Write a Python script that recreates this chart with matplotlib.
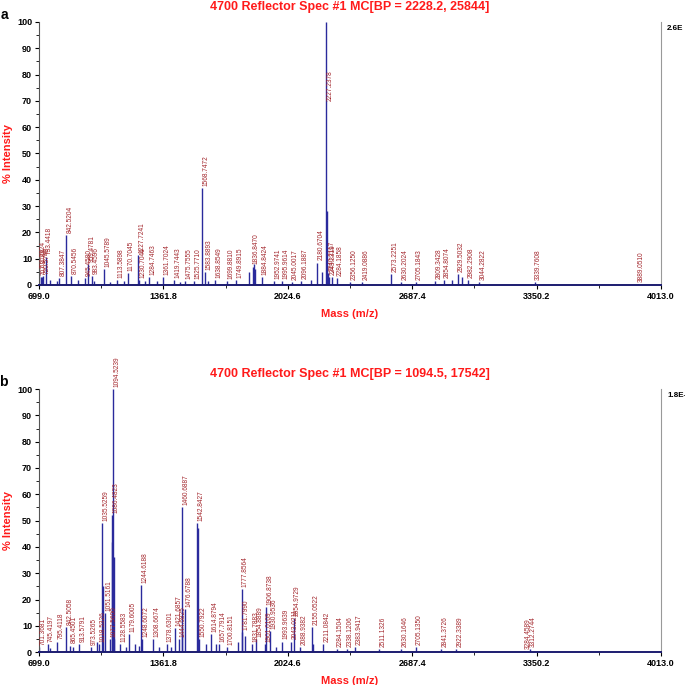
import matplotlib
matplotlib.use("Agg")
from matplotlib import pyplot as plt
from matplotlib.ticker import MultipleLocator, FixedLocator

plt.rcParams['font.family'] = ['Liberation Sans', 'DejaVu Sans']

# panel a: labelled peaks (m/z, % intensity)
a_mass = [701.2924, 707.3788, 720.5742, 733.4418, 807.3847, 842.5204, 870.5456, 945.4580,
          959.4781, 983.4596, 1045.5789, 1113.5898, 1170.7045, 1227.7241, 1230.7046, 1284.7463,
          1361.7024, 1419.7443, 1475.7555, 1525.7710, 1568.7472, 1583.8893, 1638.8549, 1699.8810,
          1749.8915, 1836.8470, 1884.8424, 1952.9741, 1995.9614, 2045.0017, 2096.1887, 2180.6704,
          2227.2378, 2240.2117, 2243.2319, 2284.1858, 2356.1250, 2419.0886, 2573.2251, 2630.2024,
          2705.1843, 2809.3428, 2854.8074, 2929.5032, 2982.2908, 3044.2822, 3339.7608, 3889.0510]
a_int = [5.5, 3.0, 3.5, 10.8, 2.5, 19.0, 3.5, 2.5,
         8.0, 3.5, 6.0, 2.0, 4.5, 11.5, 2.0, 3.0,
         3.0, 2.0, 1.5, 1.5, 37.0, 5.0, 2.0, 1.5,
         2.0, 7.0, 3.0, 1.5, 1.5, 1.2, 1.5, 8.5,
         100.0, 4.5, 3.0, 2.5, 1.0, 1.0, 4.0, 1.0,
         1.0, 1.5, 2.0, 4.0, 2.0, 1.0, 1.0, 0.5]
# panel a: unlabelled peaks
a_minor_mass = [714.0, 760.0, 795.0, 905.0, 990.0, 1075.0, 1150.0, 1265.0, 1330.0, 1450.0,
                1600.0, 1820.0, 1845.0, 1850.0, 2150.0, 2205.0, 2234.0, 2260.0, 2900.0, 2950.0]
a_minor_int = [3.0, 2.0, 1.5, 2.0, 1.5, 1.0, 1.5, 1.5, 1.5, 1.0,
               1.5, 5.0, 8.0, 6.0, 2.0, 5.0, 28.0, 3.0, 2.0, 3.0]

# panel b: labelled peaks
b_mass = [701.3681, 745.4197, 795.4118, 842.5058, 865.4501, 913.5791, 973.5265, 1018.5326,
          1035.5259, 1051.5161, 1077.5600, 1086.4823, 1094.5239, 1128.5583, 1179.6005, 1244.6188,
          1248.6072, 1308.6674, 1378.6301, 1421.6857, 1444.6825, 1460.6887, 1476.6788, 1542.8427,
          1550.7922, 1614.8794, 1657.7914, 1700.8151, 1777.8564, 1781.7990, 1831.7883, 1854.8889,
          1901.0109, 1906.8738, 1930.9536, 1993.9639, 2043.0211, 2054.9729, 2088.9382, 2155.0522,
          2211.0842, 2284.1504, 2338.1206, 2383.9417, 2511.1326, 2630.1646, 2705.1350, 2841.3726,
          2922.3389, 3284.4589, 3312.2744]
b_int = [2.0, 3.0, 4.0, 9.5, 2.5, 3.0, 2.0, 3.0,
         49.0, 15.0, 5.0, 52.0, 100.0, 3.0, 7.0, 25.5,
         5.0, 5.0, 3.0, 9.0, 5.0, 55.0, 16.5, 49.0,
         5.0, 7.0, 3.0, 2.0, 24.0, 7.5, 3.0, 5.0,
         3.0, 17.0, 8.0, 4.0, 4.0, 13.0, 2.0, 9.5,
         3.0, 1.0, 1.0, 2.0, 1.0, 1.0, 2.0, 1.0,
         1.0, 0.5, 1.0]
# panel b: unlabelled peaks
b_minor_mass = [760.0, 880.0, 1010.0, 1038.0, 1090.0, 1096.5, 1100.0, 1160.0, 1210.0, 1230.0,
                1340.0, 1400.0, 1463.0, 1545.0, 1590.0, 1640.0, 1760.0, 1795.0, 1960.0, 2160.0]
b_minor_int = [1.5, 2.0, 4.0, 25.0, 42.0, 36.0, 5.0, 2.0, 3.0, 2.5,
               2.0, 2.0, 10.0, 47.0, 3.0, 3.0, 4.0, 6.0, 2.0, 3.0]

x_ticks = [699.0, 1361.8, 2024.6, 2687.4, 3350.2, 4013.0]
titles = ["4700 Reflector Spec #1 MC[BP = 2228.2, 25844]",
          "4700 Reflector Spec #1 MC[BP = 1094.5, 17542]"]
scale_text = ["2.6E", "1.8E-"]

RED = "#ff1a1a"
PEAK = "#2a2a9c"
LABEL = "#a3262c"


def draw_panel(ax, mass, inten, minor_mass, minor_int, title, letter, scale, label_cap):
    ax.vlines(minor_mass, 0, minor_int, color=PEAK, lw=1.0)
    ax.vlines(mass, 0, inten, color=PEAK, lw=1.0)
    for m, h in zip(mass, inten):
        y = h + 0.8
        if label_cap is not None and y > label_cap:
            y = label_cap
        ax.text(m + 2, y, f"{m:.4f}", rotation=90, ha='left', va='bottom',
                fontsize=4.7, color=LABEL, clip_on=False)
    ax.set_xlim(x_ticks[0], x_ticks[-1])
    ax.set_ylim(0, 100)
    ax.xaxis.set_major_locator(FixedLocator(x_ticks))
    ax.xaxis.set_minor_locator(FixedLocator([(a + b) / 2 for a, b in zip(x_ticks[:-1], x_ticks[1:])]))
    ax.set_xticklabels([f"{t:.1f}" for t in x_ticks])
    ax.yaxis.set_major_locator(MultipleLocator(10))
    ax.yaxis.set_minor_locator(MultipleLocator(5))
    ax.tick_params(axis='both', which='major', labelsize=6.5, length=3, width=0.8, pad=2)
    ax.tick_params(axis='both', which='minor', length=2, width=0.6)
    for lab in ax.get_xticklabels() + ax.get_yticklabels():
        lab.set_fontweight('bold')
    ax.spines['top'].set_visible(False)
    ax.spines['right'].set_color('#999999')
    ax.spines['left'].set_color('#555555')
    ax.spines['bottom'].set_color('#1c1c70')
    ax.spines['bottom'].set_linewidth(1.4)
    ax.set_xlabel("Mass (m/z)", color=RED, fontweight='bold', fontsize=8, labelpad=6)
    ax.set_ylabel("% Intensity", color=RED, fontweight='bold', fontsize=8, labelpad=3)
    ax.text(0.5, 1.035, title, transform=ax.transAxes, ha='center', va='bottom',
            color=RED, fontweight='bold', fontsize=9)
    ax.text(-0.05, 1.0, letter, transform=ax.transAxes, ha='right', va='bottom',
            fontweight='bold', fontsize=10)
    ax.text(1.01, 0.99, scale, transform=ax.transAxes, ha='left', va='top',
            fontweight='bold', fontsize=5.8)


fig = plt.figure(figsize=(6.85, 6.85), dpi=100)
ax_a = fig.add_axes([0.057, 0.584, 0.908, 0.384])
ax_b = fig.add_axes([0.057, 0.048, 0.908, 0.384])

draw_panel(ax_a, a_mass, a_int, a_minor_mass, a_minor_int, titles[0], "a", scale_text[0], 70)
draw_panel(ax_b, b_mass, b_int, b_minor_mass, b_minor_int, titles[1], "b", scale_text[1], None)

fig.savefig("out.png", dpi=100)
